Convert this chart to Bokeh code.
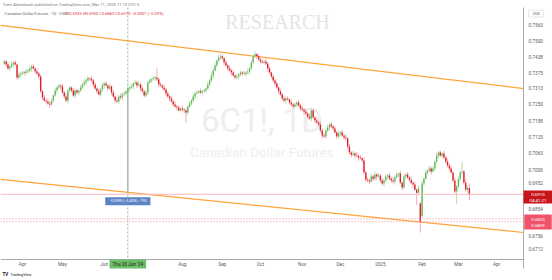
import math
import pandas as pd
from bokeh.plotting import figure
from bokeh.models import Range1d, FixedTicker, Label, PrintfTickFormatter, ColumnDataSource
from bokeh.embed import file_html
from bokeh.resources import INLINE

# ---------------- data (daily bars, CME 6C1!) ----------------
first_session = "2024-03-18"

opens = [0.7410, 0.7419, 0.7407, 0.7391, 0.7399, 0.7407, 0.7415, 0.7407, 0.7355, 0.7367,
         0.7371, 0.7375, 0.7373, 0.7379, 0.7383, 0.7391, 0.7399, 0.7391, 0.7379, 0.7371,
         0.7359, 0.7301, 0.7277, 0.7265, 0.7262, 0.7254, 0.7250, 0.7265, 0.7285, 0.7304,
         0.7316, 0.7324, 0.7320, 0.7297, 0.7281, 0.7265, 0.7304, 0.7316, 0.7304, 0.7285,
         0.7304, 0.7297, 0.7304, 0.7316, 0.7328, 0.7336, 0.7344, 0.7352, 0.7350, 0.7344,
         0.7328, 0.7312, 0.7301, 0.7289, 0.7308, 0.7324, 0.7332, 0.7324, 0.7312, 0.7320,
         0.7297, 0.7281, 0.7265, 0.7262, 0.7281, 0.7277, 0.7289, 0.7293, 0.7301, 0.7312,
         0.7316, 0.7320, 0.7332, 0.7336, 0.7324, 0.7328, 0.7312, 0.7301, 0.7285, 0.7297,
         0.7336, 0.7344, 0.7348, 0.7352, 0.7355, 0.7348, 0.7328, 0.7324, 0.7316, 0.7308,
         0.7293, 0.7281, 0.7273, 0.7262, 0.7250, 0.7242, 0.7238, 0.7227, 0.7234, 0.7230,
         0.7227, 0.7219, 0.7242, 0.7254, 0.7265, 0.7281, 0.7293, 0.7297, 0.7301, 0.7297,
         0.7301, 0.7304, 0.7312, 0.7328, 0.7344, 0.7363, 0.7383, 0.7403, 0.7423, 0.7435,
         0.7439, 0.7431, 0.7415, 0.7403, 0.7391, 0.7383, 0.7375, 0.7363, 0.7355, 0.7359,
         0.7367, 0.7375, 0.7371, 0.7369, 0.7375, 0.7379, 0.7391, 0.7415, 0.7439, 0.7447,
         0.7439, 0.7427, 0.7419, 0.7415, 0.7419, 0.7411, 0.7391, 0.7375, 0.7359, 0.7344,
         0.7332, 0.7316, 0.7301, 0.7289, 0.7273, 0.7265, 0.7273, 0.7269, 0.7258, 0.7250,
         0.7242, 0.7250, 0.7258, 0.7246, 0.7234, 0.7230, 0.7223, 0.7215, 0.7203, 0.7196,
         0.7227, 0.7200, 0.7188, 0.7180, 0.7173, 0.7150, 0.7131, 0.7127, 0.7150, 0.7161,
         0.7173, 0.7165, 0.7157, 0.7142, 0.7127, 0.7138, 0.7142, 0.7131, 0.7123, 0.7119,
         0.7089, 0.7066, 0.7058, 0.7062, 0.7055, 0.7053, 0.7047, 0.7044, 0.7036, 0.6991,
         0.6964, 0.6961, 0.6957, 0.6976, 0.6968, 0.6983, 0.6976, 0.6980, 0.6961, 0.6950,
         0.6961, 0.6976, 0.6980, 0.6968, 0.6961, 0.6957, 0.6972, 0.6983, 0.6987, 0.6953,
         0.6935, 0.6976, 0.6983, 0.6972, 0.6964, 0.6953, 0.6946, 0.6927, 0.6916, 0.6876,
         0.6830, 0.6950, 0.6968, 0.6991, 0.6998, 0.7006, 0.6995, 0.7006, 0.7032, 0.7055,
         0.7066, 0.7055, 0.7062, 0.7047, 0.7032, 0.7017, 0.7006, 0.6991, 0.6961, 0.6920,
         0.6939, 0.6968, 0.6991, 0.6995, 0.6953, 0.6927, 0.6933]

highs = [0.7427, 0.7424, 0.7417, 0.7405, 0.7419, 0.7422, 0.7424, 0.7411, 0.7378, 0.7377,
         0.7383, 0.7380, 0.7389, 0.7389, 0.7403, 0.7406, 0.7408, 0.7395, 0.7390, 0.7377,
         0.7367, 0.7306, 0.7287, 0.7271, 0.7274, 0.7261, 0.7274, 0.7289, 0.7315, 0.7322,
         0.7332, 0.7329, 0.7330, 0.7303, 0.7293, 0.7311, 0.7325, 0.7320, 0.7315, 0.7310,
         0.7312, 0.7309, 0.7326, 0.7334, 0.7348, 0.7351, 0.7361, 0.7356, 0.7361, 0.7350,
         0.7336, 0.7317, 0.7311, 0.7314, 0.7336, 0.7339, 0.7341, 0.7328, 0.7331, 0.7326,
         0.7305, 0.7286, 0.7275, 0.7287, 0.7293, 0.7296, 0.7302, 0.7305, 0.7323, 0.7322,
         0.7328, 0.7337, 0.7346, 0.7342, 0.7340, 0.7335, 0.7321, 0.7305, 0.7308, 0.7342,
         0.7352, 0.7353, 0.7362, 0.7361, 0.7391, 0.7355, 0.7337, 0.7328, 0.7327, 0.7314,
         0.7301, 0.7286, 0.7283, 0.7268, 0.7262, 0.7249, 0.7247, 0.7238, 0.7245, 0.7236,
         0.7235, 0.7247, 0.7264, 0.7271, 0.7293, 0.7300, 0.7306, 0.7305, 0.7312, 0.7307,
         0.7312, 0.7317, 0.7338, 0.7350, 0.7375, 0.7390, 0.7412, 0.7427, 0.7446, 0.7447,
         0.7447, 0.7436, 0.7425, 0.7409, 0.7403, 0.7390, 0.7384, 0.7367, 0.7370, 0.7373,
         0.7383, 0.7380, 0.7381, 0.7381, 0.7391, 0.7398, 0.7424, 0.7443, 0.7459, 0.7453,
         0.7447, 0.7432, 0.7429, 0.7425, 0.7431, 0.7418, 0.7400, 0.7379, 0.7370, 0.7350,
         0.7340, 0.7321, 0.7311, 0.7295, 0.7285, 0.7280, 0.7282, 0.7273, 0.7269, 0.7256,
         0.7258, 0.7263, 0.7268, 0.7252, 0.7246, 0.7237, 0.7232, 0.7219, 0.7214, 0.7238,
         0.7235, 0.7205, 0.7198, 0.7186, 0.7185, 0.7157, 0.7140, 0.7154, 0.7172, 0.7179,
         0.7181, 0.7170, 0.7167, 0.7148, 0.7150, 0.7149, 0.7151, 0.7135, 0.7134, 0.7125,
         0.7097, 0.7071, 0.7072, 0.7068, 0.7067, 0.7060, 0.7056, 0.7048, 0.7047, 0.6997,
         0.6972, 0.6966, 0.6986, 0.6982, 0.6995, 0.6990, 0.6989, 0.6984, 0.6972, 0.6967,
         0.6984, 0.6985, 0.6990, 0.6974, 0.6973, 0.6979, 0.6992, 0.6991, 0.6998, 0.6959,
         0.6984, 0.6988, 0.6993, 0.6978, 0.6976, 0.6960, 0.6955, 0.6931, 0.6942, 0.6882,
         0.6958, 0.6973, 0.7001, 0.7004, 0.7018, 0.7013, 0.7015, 0.7036, 0.7066, 0.7072,
         0.7074, 0.7067, 0.7072, 0.7053, 0.7044, 0.7024, 0.7015, 0.6995, 0.6972, 0.6945,
         0.6976, 0.6996, 0.7030, 0.7001, 0.6965, 0.6940, 0.6950]

lows = [0.7404, 0.7397, 0.7386, 0.7382, 0.7392, 0.7395, 0.7403, 0.7347, 0.7349, 0.7356,
        0.7365, 0.7363, 0.7368, 0.7370, 0.7376, 0.7379, 0.7387, 0.7371, 0.7365, 0.7348,
        0.7295, 0.7267, 0.7260, 0.7253, 0.7247, 0.7236, 0.7246, 0.7257, 0.7279, 0.7293,
        0.7310, 0.7310, 0.7292, 0.7272, 0.7258, 0.7253, 0.7300, 0.7296, 0.7279, 0.7274,
        0.7291, 0.7287, 0.7299, 0.7307, 0.7321, 0.7324, 0.7340, 0.7342, 0.7338, 0.7317,
        0.7306, 0.7291, 0.7284, 0.7280, 0.7301, 0.7312, 0.7320, 0.7304, 0.7306, 0.7286,
        0.7275, 0.7255, 0.7257, 0.7253, 0.7270, 0.7265, 0.7285, 0.7285, 0.7295, 0.7301,
        0.7310, 0.7310, 0.7327, 0.7315, 0.7317, 0.7300, 0.7297, 0.7277, 0.7279, 0.7286,
        0.7330, 0.7334, 0.7343, 0.7343, 0.7341, 0.7316, 0.7320, 0.7308, 0.7302, 0.7282,
        0.7275, 0.7263, 0.7257, 0.7241, 0.7235, 0.7226, 0.7223, 0.7219, 0.7224, 0.7216,
        0.7180, 0.7209, 0.7237, 0.7245, 0.7258, 0.7269, 0.7289, 0.7289, 0.7291, 0.7286,
        0.7295, 0.7294, 0.7307, 0.7319, 0.7337, 0.7351, 0.7379, 0.7395, 0.7417, 0.7424,
        0.7425, 0.7405, 0.7398, 0.7382, 0.7376, 0.7363, 0.7359, 0.7347, 0.7349, 0.7348,
        0.7361, 0.7361, 0.7364, 0.7360, 0.7368, 0.7367, 0.7387, 0.7407, 0.7433, 0.7428,
        0.7421, 0.7409, 0.7410, 0.7406, 0.7404, 0.7379, 0.7371, 0.7351, 0.7338, 0.7321,
        0.7310, 0.7291, 0.7284, 0.7264, 0.7258, 0.7253, 0.7265, 0.7250, 0.7244, 0.7231,
        0.7236, 0.7240, 0.7241, 0.7225, 0.7223, 0.7211, 0.7211, 0.7195, 0.7190, 0.7185,
        0.7194, 0.7178, 0.7175, 0.7164, 0.7143, 0.7119, 0.7123, 0.7119, 0.7144, 0.7150,
        0.7159, 0.7147, 0.7137, 0.7118, 0.7120, 0.7126, 0.7127, 0.7115, 0.7113, 0.7078,
        0.7060, 0.7048, 0.7053, 0.7046, 0.7046, 0.7035, 0.7040, 0.7028, 0.6985, 0.6953,
        0.6955, 0.6947, 0.6952, 0.6959, 0.6961, 0.6964, 0.6972, 0.6953, 0.6944, 0.6939,
        0.6955, 0.6966, 0.6963, 0.6952, 0.6950, 0.6945, 0.6968, 0.6975, 0.6947, 0.6924,
        0.6929, 0.6966, 0.6967, 0.6955, 0.6946, 0.6934, 0.6923, 0.6870, 0.6910, 0.6770,
        0.6824, 0.6940, 0.6963, 0.6982, 0.6991, 0.6983, 0.6991, 0.6998, 0.7026, 0.7044,
        0.7049, 0.7045, 0.7042, 0.7023, 0.7010, 0.6994, 0.6987, 0.6953, 0.6914, 0.6873,
        0.6933, 0.6958, 0.6986, 0.6946, 0.6920, 0.6915, 0.6889]

closes = [0.7419, 0.7407, 0.7391, 0.7399, 0.7407, 0.7415, 0.7407, 0.7355, 0.7367, 0.7371,
          0.7375, 0.7373, 0.7379, 0.7383, 0.7391, 0.7399, 0.7391, 0.7379, 0.7371, 0.7359,
          0.7301, 0.7277, 0.7265, 0.7262, 0.7254, 0.7250, 0.7265, 0.7285, 0.7304, 0.7316,
          0.7324, 0.7320, 0.7297, 0.7281, 0.7265, 0.7304, 0.7316, 0.7304, 0.7285, 0.7304,
          0.7297, 0.7304, 0.7316, 0.7328, 0.7336, 0.7344, 0.7352, 0.7350, 0.7344, 0.7328,
          0.7312, 0.7301, 0.7289, 0.7308, 0.7324, 0.7332, 0.7324, 0.7312, 0.7320, 0.7297,
          0.7281, 0.7265, 0.7262, 0.7281, 0.7277, 0.7289, 0.7293, 0.7301, 0.7312, 0.7316,
          0.7320, 0.7332, 0.7336, 0.7324, 0.7328, 0.7312, 0.7301, 0.7285, 0.7297, 0.7336,
          0.7344, 0.7348, 0.7352, 0.7355, 0.7348, 0.7328, 0.7324, 0.7316, 0.7308, 0.7293,
          0.7281, 0.7273, 0.7262, 0.7250, 0.7242, 0.7238, 0.7227, 0.7234, 0.7230, 0.7227,
          0.7219, 0.7242, 0.7254, 0.7265, 0.7281, 0.7293, 0.7297, 0.7301, 0.7297, 0.7301,
          0.7304, 0.7312, 0.7328, 0.7344, 0.7363, 0.7383, 0.7403, 0.7423, 0.7435, 0.7439,
          0.7431, 0.7415, 0.7403, 0.7391, 0.7383, 0.7375, 0.7363, 0.7355, 0.7359, 0.7367,
          0.7375, 0.7371, 0.7369, 0.7375, 0.7379, 0.7391, 0.7415, 0.7439, 0.7447, 0.7439,
          0.7427, 0.7419, 0.7415, 0.7419, 0.7411, 0.7391, 0.7375, 0.7359, 0.7344, 0.7332,
          0.7316, 0.7301, 0.7289, 0.7273, 0.7265, 0.7273, 0.7269, 0.7258, 0.7250, 0.7242,
          0.7250, 0.7258, 0.7246, 0.7234, 0.7230, 0.7223, 0.7215, 0.7203, 0.7196, 0.7227,
          0.7200, 0.7188, 0.7180, 0.7173, 0.7150, 0.7131, 0.7127, 0.7150, 0.7161, 0.7173,
          0.7165, 0.7157, 0.7142, 0.7127, 0.7138, 0.7142, 0.7131, 0.7123, 0.7119, 0.7089,
          0.7066, 0.7058, 0.7062, 0.7055, 0.7053, 0.7047, 0.7044, 0.7036, 0.6991, 0.6964,
          0.6961, 0.6957, 0.6976, 0.6968, 0.6983, 0.6976, 0.6980, 0.6961, 0.6950, 0.6961,
          0.6976, 0.6980, 0.6968, 0.6961, 0.6957, 0.6972, 0.6983, 0.6987, 0.6953, 0.6935,
          0.6976, 0.6983, 0.6972, 0.6964, 0.6953, 0.6946, 0.6927, 0.6916, 0.6931, 0.6809,
          0.6950, 0.6968, 0.6991, 0.6998, 0.7006, 0.6995, 0.7006, 0.7032, 0.7055, 0.7066,
          0.7055, 0.7062, 0.7047, 0.7032, 0.7017, 0.7006, 0.6991, 0.6961, 0.6920, 0.6939,
          0.6968, 0.6991, 0.6995, 0.6953, 0.6927, 0.6933, 0.6910]

price_ticks = [0.7563, 0.7500, 0.7438, 0.7375, 0.7313, 0.7250, 0.7188, 0.7125,
               0.7063, 0.7000, 0.6952, 0.6854, 0.6756, 0.6712]

month_labels = {"2024-04": "Apr", "2024-05": "May", "2024-06": "Jun",
                "2024-08": "Aug", "2024-09": "Sep", "2024-10": "Oct", "2024-11": "Nov",
                "2024-12": "Dec", "2025-01": "2025", "2025-02": "Feb", "2025-03": "Mar",
                "2025-04": "Apr"}

# trend channel (bar index, price)
upper_channel_idx = [-2.1, 285.8]
upper_channel_price = [0.7563, 0.7312]
lower_channel_idx = [-2.1, 285.8]
lower_channel_price = [0.6965, 0.6770]

last_price = 0.6910
last_ohlc = ("0.6933", "0.6950", "0.6889", "0.6910", "\u22120.0007", "\u22120.09%")
countdown = "04:41:21"
marked_levels = [0.6820, 0.6809]
crosshair_date = "2024-06-20"
tick_size = 0.00005

# ---------------- layout (pixels) ----------------
W, H = 552, 280
PANE_L, PANE_R, PANE_T, PANE_B = 0, 523, 7, 259     # price pane inside the canvas
X0, X1 = -2.1, 285.8                                 # bar-index span of the pane
P_TOP, P_BOT = 0.7636, 0.6673                        # price span of the pane (log)

px_per_bar = (PANE_R - PANE_L) / (X1 - X0)
ln_per_px = (math.log(P_TOP) - math.log(P_BOT)) / (PANE_B - PANE_T)
x_start = X0 - PANE_L / px_per_bar
x_end = X1 + (W - PANE_R) / px_per_bar
y_top = math.exp(math.log(P_TOP) + PANE_T * ln_per_px)
y_bot = math.exp(math.log(P_BOT) - (H - PANE_B) * ln_per_px)
axis_bottom_price = math.exp(math.log(P_BOT) - 9 * ln_per_px)


def sy(yc):
    return H - yc


# ---------------- derived positions ----------------
sessions = pd.bdate_range(first_session, "2025-04-30")
keys = list(sessions.strftime("%Y-%m"))
month_ticks = []
month_over = {}
for k, lab in month_labels.items():
    i = keys.index(k)
    month_ticks.append(i)
    month_over[i] = lab

n = len(closes)
idx = list(range(n))
up = [c >= o for o, c in zip(opens, closes)]
src = ColumnDataSource(dict(
    idx=idx,
    top=[max(o, c) for o, c in zip(opens, closes)],
    bottom=[min(o, c) for o, c in zip(opens, closes)],
    high=highs, low=lows,
    body=["#5fb65a" if u else "#dc1d24" for u in up],
    wick=["#b9dcaa" if u else "#f4aab4" for u in up],
))

ch_idx = list(sessions.strftime("%Y-%m-%d")).index(crosshair_date)
frac = (ch_idx - lower_channel_idx[0]) / (lower_channel_idx[1] - lower_channel_idx[0])
lower_at_ch = math.exp(math.log(lower_channel_price[0]) +
                       frac * (math.log(lower_channel_price[1]) - math.log(lower_channel_price[0])))
ch_close = closes[ch_idx]
diff = lower_at_ch - ch_close
pct = diff / ch_close * 100
ticks_n = round(diff / tick_size)
measure_text = f"{diff:.4f} ({pct:.2f}%) {ticks_n}".replace("-", "\u2212")

# ---------------- figure ----------------
p = figure(width=W, height=H, output_backend="svg", toolbar_location=None,
           y_axis_type="log", y_axis_location="right",
           x_range=Range1d(x_start, x_end), y_range=Range1d(y_bot, y_top),
           min_border_left=0, min_border_right=0, min_border_top=0, min_border_bottom=0)
p.outline_line_color = None
p.background_fill_color = "white"
p.border_fill_color = "white"
p.xgrid.visible = False
p.ygrid.visible = False

FONT = "Roboto"
AX_COL = "#a9abb3"
LAB_COL = "#555a63"

ax = p.xaxis[0]
ax.fixed_location = P_BOT
ax.bounds = (X0, X1)
ax.ticker = FixedTicker(ticks=month_ticks, minor_ticks=[])
ax.major_label_overrides = month_over
ax.major_tick_line_color = None
ax.minor_tick_line_color = None
ax.major_tick_out = 0
ax.major_tick_in = 0
ax.axis_line_color = AX_COL
ax.major_label_text_font = FONT
ax.major_label_text_font_size = "4.7px"
ax.major_label_text_color = LAB_COL
ax.major_label_standoff = 2

ay = p.yaxis[0]
ay.fixed_location = X1
ay.bounds = (axis_bottom_price, P_TOP)
ay.ticker = FixedTicker(ticks=price_ticks, minor_ticks=[])
ay.formatter = PrintfTickFormatter(format="%.4f")
ay.major_tick_line_color = None
ay.minor_tick_line_color = None
ay.major_tick_out = 0
ay.major_tick_in = 0
ay.axis_line_color = AX_COL
ay.major_label_text_font = FONT
ay.major_label_text_font_size = "4.7px"
ay.major_label_text_color = LAB_COL
ay.major_label_standoff = 5

# watermarks (under the candles)
cx = (PANE_L + PANE_R) / 2
p.add_layout(Label(x=cx, y=sy(120), x_units="screen", y_units="screen", text="6C1!, 1D",
                   text_align="center", text_baseline="middle", text_font=FONT,
                   text_font_size="33px", text_color="#eeeeee", level="underlay"))
p.add_layout(Label(x=cx, y=sy(151), x_units="screen", y_units="screen",
                   text="Canadian Dollar Futures", text_align="center", text_baseline="middle",
                   text_font=FONT, text_font_size="13.5px", text_color="#eeeeee", level="underlay"))
p.add_layout(Label(x=277, y=sy(21), x_units="screen", y_units="screen", text="RESEARCH",
                   text_align="center", text_baseline="middle", text_font="Liberation Serif",
                   text_font_size="20px", text_color="#e4e4e4", level="underlay"))

# channel
p.line(upper_channel_idx, upper_channel_price, line_color="#ffa33a", line_width=1.2)
p.line(lower_channel_idx, lower_channel_price, line_color="#ffa33a", line_width=1.2)

# candles
p.segment(x0="idx", y0="low", x1="idx", y1="high", source=src, line_color="wick", line_width=1)
p.vbar(x="idx", width=0.75, top="top", bottom="bottom", source=src,
       fill_color="body", line_color=None)

# price lines across the pane
p.segment(x0=[X0], y0=[last_price], x1=[X1], y1=[last_price], line_color="#f6b9c0", line_width=1)
p.segment(x0=[X0] * len(marked_levels), y0=marked_levels, x1=[X1] * len(marked_levels),
          y1=marked_levels, line_color="#f38d9c", line_width=1, line_dash="1 2")

# crosshair and price-range measurement
p.segment(x0=[ch_idx], y0=[P_TOP], x1=[ch_idx], y1=[P_BOT], line_color="#7cc47a",
          line_width=1, line_dash="2 2")
p.segment(x0=[ch_idx], y0=[ch_close], x1=[ch_idx], y1=[lower_at_ch],
          line_color="#8fa88b", line_width=1)
p.add_layout(Label(x=ch_idx, y=lower_at_ch, y_offset=-9, text=measure_text,
                   text_align="center", text_baseline="middle", text_font=FONT,
                   text_font_size="3.6px", text_color="white",
                   background_fill_color="#5b84c4", padding=(4, 2)))
p.add_layout(Label(x=ch_idx, y=sy(263.5), y_units="screen", text="Thu 20 Jun '24",
                   text_align="center", text_baseline="middle", text_font=FONT,
                   text_font_size="4.7px", text_color="#1a1a1a",
                   background_fill_color="#6cbd68", padding=(3, 2)))

# header
p.add_layout(Label(x=2, y=sy(4), x_units="screen", y_units="screen",
                   text="Trent Alarenbach published on TradingView.com, Mar 11, 2025 11:13 UTC-5",
                   text_baseline="middle", text_font=FONT, text_font_size="4.1px",
                   text_color="#7a7a7a"))
p.add_layout(Label(x=4, y=sy(13), x_units="screen", y_units="screen",
                   text="Canadian Dollar Futures \u00b7 1D \u00b7 CME",
                   text_baseline="middle", text_font=FONT, text_font_size="4.1px",
                   text_color="#6a6a6a"))
o_, h_, l_, c_, ch_, chp_ = last_ohlc
p.add_layout(Label(x=66, y=sy(13), x_units="screen", y_units="screen",
                   text=f"O{o_} H{h_} L{l_} C{c_} {ch_} ({chp_})",
                   text_baseline="middle", text_font=FONT, text_font_size="4.1px",
                   text_color="#e0303a"))

# right axis badges
p.add_layout(Label(x=528, y=sy(13), x_units="screen", y_units="screen", text="USD",
                   text_baseline="middle", text_font=FONT, text_font_size="3.8px",
                   text_color=LAB_COL, background_fill_color="white",
                   border_line_color="#e3e5ea", padding=(4, 1)))
p.add_layout(Label(x=537.5, y=sy(196.5), x_units="screen", y_units="screen",
                   text=f"{last_price:.4f}\n{countdown}", text_align="center",
                   text_baseline="middle", text_font=FONT, text_font_size="4.4px",
                   text_color="white", background_fill_color="#c8161d", padding=(6, 1)))
p.add_layout(Label(x=537.5, y=sy(221.5), x_units="screen", y_units="screen",
                   text=f"{marked_levels[0]:.4f}\n{marked_levels[1]:.4f}", text_align="center",
                   text_baseline="middle", text_font=FONT, text_font_size="4.4px",
                   text_color="white", background_fill_color="#f0526a", padding=(7, 2)))

# footer logo
p.add_layout(Label(x=2, y=sy(274), x_units="screen", y_units="screen", text="TV",
                   text_baseline="middle", text_font=FONT, text_font_size="4.5px",
                   text_font_style="bold", text_color="#131722"))
p.add_layout(Label(x=10, y=sy(274), x_units="screen", y_units="screen", text="TradingView",
                   text_baseline="middle", text_font=FONT, text_font_size="3.8px",
                   text_color="#131722"))

open("out.html", "w").write(file_html(p, INLINE))
